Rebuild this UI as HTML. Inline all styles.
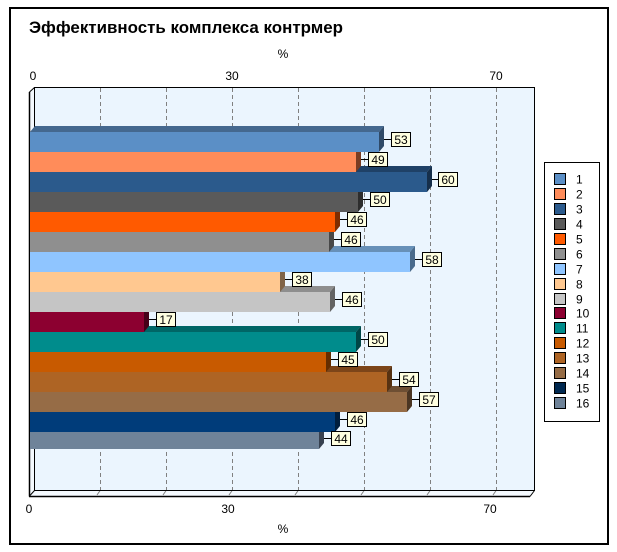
<!DOCTYPE html>
<html><head><meta charset="utf-8"><style>
html,body{margin:0;padding:0;background:#fff;}
svg{display:block;}
text{font-family:"Liberation Sans",Arial,sans-serif;}
</style></head><body>
<svg width="617" height="552" viewBox="0 0 617 552" xmlns="http://www.w3.org/2000/svg">
<rect x="0" y="0" width="617" height="552" fill="#fff"/>
<rect x="10" y="8" width="598" height="536" fill="#fff" stroke="#000" stroke-width="2"/>
<text x="29" y="33" font-size="17" font-weight="bold" textLength="314" lengthAdjust="spacingAndGlyphs">Эффективность комплекса контрмер</text>
<text x="283" y="58" font-size="12" text-anchor="middle">%</text>
<text x="33" y="80" font-size="12" text-anchor="middle">0</text>
<text x="232" y="80" font-size="12" text-anchor="middle">30</text>
<text x="496" y="80" font-size="12" text-anchor="middle">70</text>
<text x="29" y="513" font-size="12" text-anchor="middle">0</text>
<text x="228" y="513" font-size="12" text-anchor="middle">30</text>
<text x="490" y="513" font-size="12" text-anchor="middle">70</text>
<text x="283" y="533" font-size="12" text-anchor="middle">%</text>

<!-- walls -->
<rect x="34" y="87" width="500" height="403" fill="#EBF5FE"/>
<polygon points="29,92 34,87 34,490 29,496" fill="#F4F9FE"/>
<polygon points="34,490 534,490 530,496 29,496" fill="#F4F9FE"/>
<g stroke="#808080" stroke-width="1" stroke-dasharray="4,3" fill="none">
<line x1="100.5" y1="88" x2="100.5" y2="490"/>
<line x1="166.5" y1="88" x2="166.5" y2="490"/>
<line x1="232.5" y1="88" x2="232.5" y2="490"/>
<line x1="298.5" y1="88" x2="298.5" y2="490"/>
<line x1="364.5" y1="88" x2="364.5" y2="490"/>
<line x1="430.5" y1="88" x2="430.5" y2="490"/>
<line x1="496.5" y1="88" x2="496.5" y2="490"/>
</g>
<g stroke="#808080" stroke-width="1" fill="none">
<line x1="100.5" y1="490" x2="97" y2="495"/>
<line x1="166.5" y1="490" x2="163" y2="495"/>
<line x1="232.5" y1="490" x2="229" y2="495"/>
<line x1="298.5" y1="490" x2="295" y2="495"/>
<line x1="364.5" y1="490" x2="361" y2="495"/>
<line x1="430.5" y1="490" x2="427" y2="495"/>
<line x1="496.5" y1="490" x2="493" y2="495"/>
</g>
<g stroke="#000" fill="none">
<polyline points="34.5,490.5 34.5,87.5 534.5,87.5 534.5,490.5 34.5,490.5" stroke-width="1"/>
<polyline points="29.5,92 34.5,87.5" stroke-width="1"/>
<line x1="29.5" y1="92" x2="29.5" y2="496.5" stroke-width="1.5"/>
<line x1="29" y1="496.5" x2="530" y2="496.5" stroke-width="1.5"/>
<line x1="530" y1="496.5" x2="534.5" y2="490.5" stroke-width="1"/>
<line x1="29.5" y1="496" x2="34.5" y2="490.5" stroke-width="1"/>
</g>

<!-- bars drawn bottom to top -->
<g id="bars">
<!-- 16 -->
<polygon points="30,432 35,426 324,426 319,432" fill="#53626F"/>
<polygon points="319,432 324,426 324,443 319,449" fill="#374150"/>
<rect x="30" y="432" width="289" height="17" fill="#6F8399"/>
<!-- 15 -->
<polygon points="30,412 35,406 340,406 335,412" fill="#002D5C"/>
<polygon points="335,412 340,406 340,426 335,432" fill="#001E3D"/>
<rect x="30" y="412" width="305" height="20" fill="#003C7A"/>
<!-- 14 -->
<polygon points="30,392 35,386 412,386 407,392" fill="#6E4F33"/>
<polygon points="407,392 412,386 412,406 407,412" fill="#4B3623"/>
<rect x="30" y="392" width="377" height="20" fill="#966C46"/>
<!-- 13 -->
<polygon points="30,372 35,366 392,366 387,372" fill="#7C4519"/>
<polygon points="387,372 392,366 392,386 387,392" fill="#573212"/>
<rect x="30" y="372" width="357" height="20" fill="#AE6424"/>
<!-- 12 -->
<polygon points="30,352 35,346 331,346 326,352" fill="#8F4000"/>
<polygon points="326,352 331,346 331,366 326,372" fill="#642D00"/>
<rect x="30" y="352" width="296" height="20" fill="#C85A00"/>
<!-- 11 -->
<polygon points="30,332 35,326 361,326 356,332" fill="#006666"/>
<polygon points="356,332 361,326 361,346 356,352" fill="#004646"/>
<rect x="30" y="332" width="326" height="20" fill="#008C8C"/>
<!-- 10 -->
<polygon points="30,312 35,306 149,306 144,312" fill="#650023"/>
<polygon points="144,312 149,306 149,326 144,332" fill="#460018"/>
<rect x="30" y="312" width="114" height="20" fill="#8C0030"/>
<!-- 9 -->
<polygon points="30,292 35,286 335,286 330,292" fill="#8E8E8E"/>
<polygon points="330,292 335,286 335,306 330,312" fill="#636363"/>
<rect x="30" y="292" width="300" height="20" fill="#C5C5C5"/>
<!-- 8 -->
<polygon points="30,272 35,266 285,266 280,272" fill="#B89068"/>
<polygon points="280,272 285,266 285,286 280,292" fill="#806448"/>
<rect x="30" y="272" width="250" height="20" fill="#FFC890"/>
<!-- 7 -->
<polygon points="30,252 35,246 415,246 410,252" fill="#6790B8"/>
<polygon points="410,252 415,246 415,266 410,272" fill="#486A8C"/>
<rect x="30" y="252" width="380" height="20" fill="#8FC5FF"/>
<!-- 6 -->
<polygon points="30,232 35,226 334,226 329,232" fill="#676767"/>
<polygon points="329,232 334,226 334,246 329,252" fill="#484848"/>
<rect x="30" y="232" width="299" height="20" fill="#8F8F8F"/>
<!-- 5 -->
<polygon points="30,212 35,206 340,206 335,212" fill="#B84000"/>
<polygon points="335,212 340,206 340,226 335,232" fill="#7F2D00"/>
<rect x="30" y="212" width="305" height="20" fill="#FF5A00"/>
<!-- 4 -->
<polygon points="30,192 35,186 363,186 358,192" fill="#414141"/>
<polygon points="358,192 363,186 363,206 358,212" fill="#2D2D2D"/>
<rect x="30" y="192" width="328" height="20" fill="#5A5A5A"/>
<!-- 3 -->
<polygon points="30,172 35,166 432,166 427,172" fill="#1F4167"/>
<polygon points="427,172 432,166 432,186 427,192" fill="#162F4B"/>
<rect x="30" y="172" width="397" height="20" fill="#2B5A8C"/>
<!-- 2 -->
<polygon points="30,152 35,146 361,146 356,152" fill="#B86541"/>
<polygon points="356,152 361,146 361,166 356,172" fill="#7A3C22"/>
<rect x="30" y="152" width="326" height="20" fill="#FF8C5A"/>
<!-- 1 -->
<polygon points="30,132 35,126 384,126 379,132" fill="#44688F"/>
<polygon points="379,132 384,126 384,146 379,152" fill="#2F4A68"/>
<rect x="30" y="132" width="349" height="20" fill="#5B8FC6"/>
</g>

<!-- data labels -->
<g font-size="12" text-anchor="middle">
<g stroke="#000" stroke-width="1">
<line x1="384" y1="139.5" x2="391" y2="139.5"/>
<line x1="361" y1="159.5" x2="368" y2="159.5"/>
<line x1="432" y1="179.5" x2="439" y2="179.5"/>
<line x1="363" y1="199.5" x2="370" y2="199.5"/>
<line x1="340" y1="219.5" x2="347" y2="219.5"/>
<line x1="334" y1="239.5" x2="341" y2="239.5"/>
<line x1="415" y1="259.5" x2="422" y2="259.5"/>
<line x1="285" y1="279.5" x2="292" y2="279.5"/>
<line x1="335" y1="299.5" x2="342" y2="299.5"/>
<line x1="149" y1="319.5" x2="156" y2="319.5"/>
<line x1="361" y1="339.5" x2="368" y2="339.5"/>
<line x1="331" y1="359.5" x2="338" y2="359.5"/>
<line x1="392" y1="379.5" x2="399" y2="379.5"/>
<line x1="412" y1="399.5" x2="419" y2="399.5"/>
<line x1="340" y1="419.5" x2="347" y2="419.5"/>
<line x1="324" y1="438.5" x2="331" y2="438.5"/>
</g>
<g fill="#FFFFE0" stroke="#000" stroke-width="1">
<rect x="391.5" y="132.5" width="19" height="14"/>
<rect x="368.5" y="152.5" width="19" height="14"/>
<rect x="438.5" y="172.5" width="19" height="14"/>
<rect x="370.5" y="192.5" width="19" height="14"/>
<rect x="347.5" y="212.5" width="19" height="14"/>
<rect x="341.5" y="232.5" width="19" height="14"/>
<rect x="422.5" y="252.5" width="19" height="14"/>
<rect x="292.5" y="272.5" width="19" height="14"/>
<rect x="342.5" y="292.5" width="19" height="14"/>
<rect x="156.5" y="312.5" width="19" height="14"/>
<rect x="368.5" y="332.5" width="19" height="14"/>
<rect x="338.5" y="352.5" width="19" height="14"/>
<rect x="399.5" y="372.5" width="19" height="14"/>
<rect x="419.5" y="392.5" width="19" height="14"/>
<rect x="347.5" y="412.5" width="19" height="14"/>
<rect x="331.5" y="431.5" width="19" height="14"/>
</g>
<text x="401" y="144">53</text>
<text x="378" y="164">49</text>
<text x="448" y="184">60</text>
<text x="380" y="204">50</text>
<text x="357" y="224">46</text>
<text x="351" y="244">46</text>
<text x="432" y="264">58</text>
<text x="302" y="284">38</text>
<text x="352" y="304">46</text>
<text x="166" y="324">17</text>
<text x="378" y="344">50</text>
<text x="348" y="364">45</text>
<text x="409" y="384">54</text>
<text x="429" y="404">57</text>
<text x="357" y="424">46</text>
<text x="341" y="443">44</text>
</g>

<!-- legend -->
<rect x="544.5" y="162.5" width="55" height="259" fill="#fff" stroke="#000" stroke-width="1"/>
<g stroke="#000" stroke-width="1">
<rect x="554.5" y="173.5" width="11" height="11" fill="#5B8FC6"/>
<rect x="554.5" y="188.5" width="11" height="11" fill="#FF8C5A"/>
<rect x="554.5" y="203.5" width="11" height="11" fill="#2B5A8C"/>
<rect x="554.5" y="218.5" width="11" height="11" fill="#5A5A5A"/>
<rect x="554.5" y="233.5" width="11" height="11" fill="#FF5A00"/>
<rect x="554.5" y="248.5" width="11" height="11" fill="#8F8F8F"/>
<rect x="554.5" y="263.5" width="11" height="11" fill="#8FC5FF"/>
<rect x="554.5" y="278.5" width="11" height="11" fill="#FFC890"/>
<rect x="554.5" y="293.5" width="11" height="11" fill="#C5C5C5"/>
<rect x="554.5" y="307.5" width="11" height="11" fill="#8C0030"/>
<rect x="554.5" y="322.5" width="11" height="11" fill="#008C8C"/>
<rect x="554.5" y="337.5" width="11" height="11" fill="#C85A00"/>
<rect x="554.5" y="352.5" width="11" height="11" fill="#AE6424"/>
<rect x="554.5" y="367.5" width="11" height="11" fill="#966C46"/>
<rect x="554.5" y="382.5" width="11" height="11" fill="#002850"/>
<rect x="554.5" y="397.5" width="11" height="11" fill="#6F8399"/>
</g>
<g font-size="12">
<text x="576" y="183.5">1</text>
<text x="576" y="198.5">2</text>
<text x="576" y="213.5">3</text>
<text x="576" y="228.5">4</text>
<text x="576" y="243.5">5</text>
<text x="576" y="258.5">6</text>
<text x="576" y="273.5">7</text>
<text x="576" y="288.5">8</text>
<text x="576" y="303.5">9</text>
<text x="576" y="317.5">10</text>
<text x="576" y="332.5">11</text>
<text x="576" y="347.5">12</text>
<text x="576" y="362.5">13</text>
<text x="576" y="377.5">14</text>
<text x="576" y="392.5">15</text>
<text x="576" y="407.5">16</text>
</g>
</svg>
</body></html>
